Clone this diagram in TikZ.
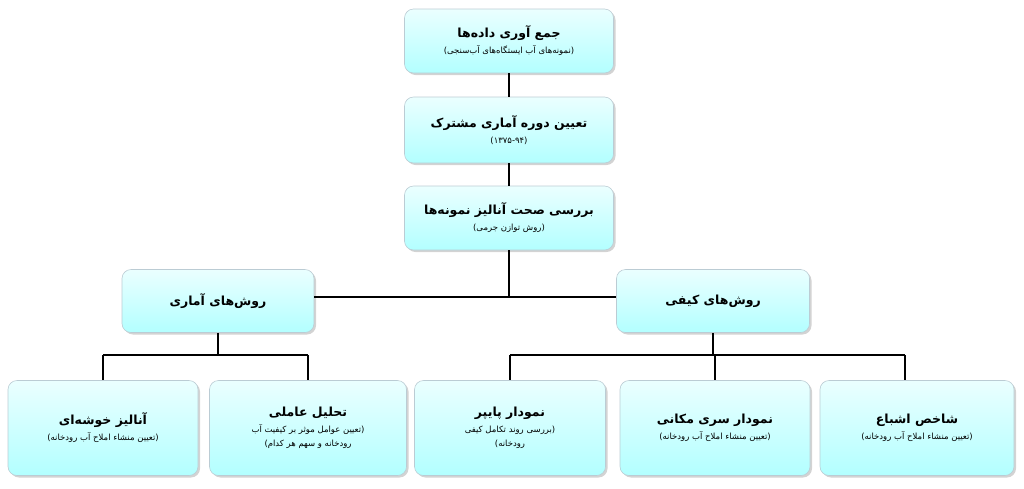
\documentclass[tikz,border=0pt]{standalone}
\usepackage{fontspec}
\TeXXeTstate=1
\newfontfamily\arabicfont[Script=Arabic]{DejaVu Sans}
\usetikzlibrary{shadows}
\tikzset{
  box/.style={rounded corners=9pt, draw=cyan!25!gray!50, line width=0.6pt,
    top color=cyan!8, bottom color=cyan!30, drop shadow={opacity=0.35, shadow xshift=2pt, shadow yshift=-2pt},
    align=center, inner sep=0pt, font=\arabicfont},
  conn/.style={line width=2.2pt, black}
}
\newcommand{\ttl}[1]{{\fontsize{12.5}{16}\bfseries\beginR #1\endR}}
\newcommand{\sub}[1]{{\fontsize{8.5}{20}\selectfont\beginR #1\endR}}
\begin{document}
\begin{tikzpicture}[x=1pt,y=-1pt]
\useasboundingbox (0,0) rectangle (1024,488);
\node[box, minimum width=209pt, minimum height=64pt] (a) at (509,41) {\ttl{جمع آوری داده‌ها}\\[4pt]\sub{(نمونه‌های آب ایستگاه‌های آب‌سنجی)}};
\node[box, minimum width=209pt, minimum height=66pt] (b) at (509,130) {\ttl{تعیین دوره آماری مشترک}\\[4pt]{\fontsize{8.5}{20}\selectfont\beginL(۱۳۷۵-۹۴)\endL}};
\node[box, minimum width=209pt, minimum height=64pt] (c) at (509,218) {\ttl{بررسی صحت آنالیز نمونه‌ها}\\[4pt]\sub{(روش توازن جرمی)}};
\node[box, minimum width=192pt, minimum height=63pt] (s) at (218,301) {\ttl{روش‌های آماری}};
\node[box, minimum width=193pt, minimum height=63pt] (q) at (713,301) {\ttl{روش‌های کیفی}};
\node[box, minimum width=190pt, minimum height=95pt] (b1) at (103,428) {\ttl{آنالیز خوشه‌ای}\\[4pt]\sub{(تعیین منشاء املاح آب رودخانه)}};
\node[box, minimum width=197pt, minimum height=95pt] (b2) at (308,428) {\ttl{تحلیل عاملی}\\[4pt]\sub{(تعیین عوامل موثر بر کیفیت آب}\\[2pt]\sub{رودخانه و سهم هر کدام)}};
\node[box, minimum width=191pt, minimum height=95pt] (b3) at (510,428) {\ttl{نمودار پایپر}\\[4pt]\sub{(بررسی روند تکامل کیفی}\\[2pt]\sub{رودخانه)}};
\node[box, minimum width=190pt, minimum height=95pt] (b4) at (715,428) {\ttl{نمودار سری مکانی}\\[4pt]\sub{(تعیین منشاء املاح آب رودخانه)}};
\node[box, minimum width=194pt, minimum height=95pt] (b5) at (917,428) {\ttl{شاخص اشباع}\\[4pt]\sub{(تعیین منشاء املاح آب رودخانه)}};
\coordinate (j) at (509,297);
\coordinate (js) at (218,355);
\coordinate (jq) at (713,355);
\begin{scope}[on background layer/.try]
\draw[conn] (a.south) -- (b.north);
\draw[conn] (b.south) -- (c.north);
\draw[conn] (c.south) -- (j);
\draw[conn] (s.east |- j) -- (q.west |- j);
\draw[conn] (s.south) -- (js);
\draw[conn] (q.south) -- (jq);
\draw[conn] (b1.north |- js) -- (b2.north |- js);
\draw[conn] (b1.north |- js) -- (b1.north);
\draw[conn] (b2.north |- js) -- (b2.north);
\draw[conn] (b3.north |- jq) -- ([xshift=-12pt]b5.north |- jq);
\draw[conn] (b3.north |- jq) -- (b3.north);
\draw[conn] (b4.north |- jq) -- (b4.north);
\draw[conn] ([xshift=-12pt]b5.north |- jq) -- ([xshift=-12pt]b5.north);
\end{scope}
\end{tikzpicture}
\end{document}
